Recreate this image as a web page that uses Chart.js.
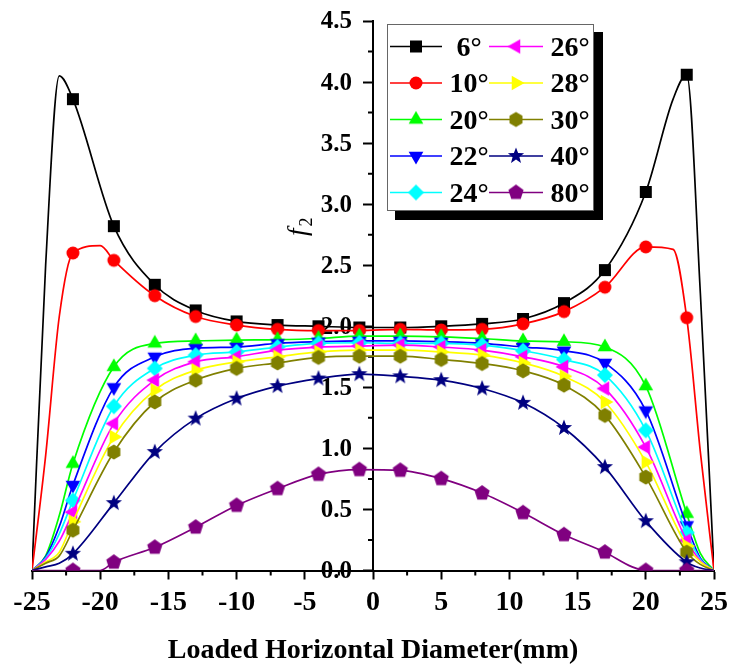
<!DOCTYPE html>
<html>
<head>
<meta charset="utf-8">
<script src="https://cdn.jsdelivr.net/npm/chart.js@4.4.1/dist/chart.umd.min.js"></script>
<style>
  body { margin: 0; background: #fff; }
  canvas { display: block; }
</style>
</head>
<body>
<canvas id="chart" width="729" height="667"></canvas>
<script>
// Posiciones (mm) donde se dibujan los marcadores
const markerX = [-22, -19, -16, -13, -10, -7, -4, -1, 2, 5, 8, 11, 14, 17, 20, 23];

// Ángulos de carga (leyenda)
const labels = ['6°', '10°', '20°', '22°', '24°', '26°', '28°', '30°', '40°', '80°'];

// Posiciones x de cada curva
const xBlack  = [-25, -24, -23, -22, -19, -16, -13, -10, -7, -4, -1, 2, 5, 8, 11, 14, 17, 20, 22, 23, 24, 25];
const xRed    = [-25, -24, -23, -22, -20, -19, -16, -13, -10, -7, -4, -1, 2, 5, 8, 11, 14, 17, 20, 22, 23, 24, 25];
const xMid    = [-25, -24, -23, -22, -19, -16, -13, -10, -7, -4, -1, 2, 5, 8, 11, 14, 17, 20, 23, 24, 25];
const xPurple = [-25, -22, -20, -19, -16, -13, -10, -7, -4, -1, 2, 5, 8, 11, 14, 17, 19, 20, 23, 25];

// Valores f2
const f6  = [0, 2.50, 4.05, 3.86, 2.82, 2.34, 2.13, 2.04, 2.01, 2.00, 1.99, 1.99, 2.00, 2.02, 2.06, 2.19, 2.46, 3.10, 3.86, 4.06, 2.27, 0];
const f10 = [0, 0.94, 2.08, 2.60, 2.66, 2.54, 2.25, 2.08, 2.01, 1.975, 1.965, 1.965, 1.975, 1.97, 1.975, 2.02, 2.12, 2.32, 2.65, 2.63, 2.07, 0.97, 0];
const f20 = [0, 0.12, 0.45, 0.875, 1.668, 1.86, 1.88, 1.887, 1.89, 1.90, 1.92, 1.92, 1.914, 1.90, 1.88, 1.873, 1.83, 1.51, 0.465, 0.14, 0];
const f22 = [0, 0.11, 0.36, 0.70, 1.50, 1.75, 1.82, 1.83, 1.86, 1.873, 1.88, 1.88, 1.873, 1.86, 1.83, 1.80, 1.70, 1.31, 0.37, 0.10, 0];
const f24 = [0, 0.10, 0.30, 0.574, 1.345, 1.655, 1.764, 1.79, 1.83, 1.86, 1.865, 1.86, 1.86, 1.846, 1.80, 1.728, 1.60, 1.148, 0.31, 0.09, 0];
const f26 = [0, 0.09, 0.24, 0.478, 1.203, 1.559, 1.709, 1.75, 1.805, 1.83, 1.838, 1.846, 1.83, 1.805, 1.75, 1.668, 1.49, 1.01, 0.246, 0.08, 0];
const f28 = [0, 0.07, 0.15, 0.40, 1.094, 1.477, 1.64, 1.709, 1.75, 1.79, 1.805, 1.805, 1.79, 1.764, 1.70, 1.59, 1.38, 0.888, 0.20, 0.07, 0];
const f30 = [0, 0.06, 0.12, 0.33, 0.97, 1.38, 1.559, 1.655, 1.70, 1.745, 1.755, 1.755, 1.728, 1.695, 1.635, 1.518, 1.27, 0.765, 0.15, 0.05, 0];
const f40 = [0, 0.03, 0.06, 0.137, 0.552, 0.97, 1.244, 1.408, 1.51, 1.572, 1.608, 1.59, 1.559, 1.49, 1.373, 1.167, 0.847, 0.404, 0.068, 0.02, 0];
const f80 = [0, 0, 0, 0.068, 0.19, 0.355, 0.533, 0.67, 0.787, 0.826, 0.82, 0.752, 0.634, 0.473, 0.293, 0.15, 0.03, 0, 0, 0];

const colors = ['#000000', '#ff0000', '#00ff00', '#0000ff', '#00ffff', '#ff00ff', '#ffff00', '#808000', '#000080', '#800080'];
const shapes = ['square', 'circle', 'up', 'down', 'diamond', 'left', 'right', 'hexagon', 'star', 'pentagon'];

const FONT = "'Liberation Serif', 'Times New Roman', serif";

// Dibuja un polígono regular (o estrella) en el contexto
function poly(g, n, r, rot, inner) {
    const pts = inner ? n * 2 : n;
    for (let i = 0; i < pts; i++) {
        const rr = inner && i % 2 ? inner : r;
        const a = rot + i * 2 * Math.PI / pts;
        const px = rr * Math.cos(a), py = rr * Math.sin(a);
        if (i === 0) g.moveTo(px, py); else g.lineTo(px, py);
    }
    g.closePath();
}

// Crea un canvas pequeño con el marcador para usarlo como pointStyle
function makeMarker(shape, color) {
    const c = document.createElement('canvas');
    c.width = 18; c.height = 18;
    const g = c.getContext('2d');
    g.fillStyle = color;
    g.translate(9, 9);
    g.beginPath();
    const up = -Math.PI / 2;
    switch (shape) {
        case 'square': g.rect(-6, -6, 12, 12); break;
        case 'circle': g.arc(0, 0, 6.5, 0, 2 * Math.PI); break;
        case 'up': poly(g, 3, 8.5, up); break;
        case 'down': poly(g, 3, 8.5, Math.PI / 2); break;
        case 'left': poly(g, 3, 8.5, Math.PI); break;
        case 'right': poly(g, 3, 8.5, 0); break;
        case 'diamond': poly(g, 4, 8, up); break;
        case 'hexagon': poly(g, 6, 7.5, up); break;
        case 'star': poly(g, 5, 8.5, up, 3.6); break;
        case 'pentagon': poly(g, 5, 8, up); break;
    }
    g.fill();
    return c;
}

const markers = shapes.map((s, i) => makeMarker(s, colors[i]));

const series = [
    [xBlack, f6], [xRed, f10], [xMid, f20], [xMid, f22], [xMid, f24],
    [xMid, f26], [xMid, f28], [xMid, f30], [xMid, f40], [xPurple, f80]
];

const datasets = series.map(([xs, ys], i) => ({
    label: labels[i],
    data: xs.map((x, k) => ({ x: x, y: ys[k] })),
    borderColor: colors[i],
    backgroundColor: colors[i],
    borderWidth: 1.7,
    cubicInterpolationMode: 'monotone',
    pointStyle: markers[i],
    pointRadius: ctx => (ctx.raw && markerX.includes(ctx.raw.x)) ? 6 : 0,
    pointHoverRadius: 0,
    clip: 0,
    order: 10 - i
}));

// Etiquetas del eje y (a la izquierda del eje central) y marcas menores
const axisExtras = {
    id: 'axisExtras',
    beforeDatasetsDraw(chart) {
        const { ctx, chartArea, scales } = chart;
        const x0 = scales.x.getPixelForValue(0);
        ctx.save();
        ctx.fillStyle = '#000';
        ctx.font = 'bold 25px ' + FONT;
        ctx.textAlign = 'right';
        ctx.textBaseline = 'middle';
        scales.y.ticks.forEach(t => {
            ctx.fillText(t.value.toFixed(1), x0 - 21, scales.y.getPixelForValue(t.value) + 1);
        });
        ctx.strokeStyle = '#000';
        ctx.lineWidth = 2;
        ctx.beginPath();
        for (let v = -22.5; v < 25; v += 5) {
            const px = scales.x.getPixelForValue(v);
            ctx.moveTo(px, chartArea.bottom);
            ctx.lineTo(px, chartArea.bottom + 5);
        }
        for (let v = 0.25; v < 4.5; v += 0.5) {
            const py = scales.y.getPixelForValue(v);
            ctx.moveTo(x0, py);
            ctx.lineTo(x0 - 5, py);
        }
        ctx.stroke();
        ctx.restore();
    }
};

// Leyenda en dos columnas con sombra y título del eje y
const boxLegend = {
    id: 'boxLegend',
    afterDraw(chart) {
        const ctx = chart.ctx;
        ctx.save();
        // sombra
        ctx.fillStyle = '#000';
        ctx.fillRect(395, 32, 208, 188);
        ctx.fillStyle = '#fff';
        ctx.fillRect(387, 24, 207, 187);
        ctx.strokeStyle = '#666';
        ctx.lineWidth = 1;
        ctx.strokeRect(387.5, 24.5, 206, 186);

        ctx.font = 'bold 28px ' + FONT;
        ctx.textAlign = 'center';
        ctx.textBaseline = 'middle';
        chart.data.datasets.forEach((ds, i) => {
            const col = i < 5 ? 0 : 1;
            const row = i % 5;
            const y = 46.5 + row * 36.5;
            const x1 = col ? 489 : 390;
            const x2 = col ? 543 : 442;
            const xm = col ? 516 : 416;
            const xt = col ? 570 : 469;
            ctx.strokeStyle = ds.borderColor;
            ctx.lineWidth = 1.7;
            ctx.beginPath();
            ctx.moveTo(x1, y);
            ctx.lineTo(x2, y);
            ctx.stroke();
            const m = markers[i];
            ctx.drawImage(m, xm - m.width / 2, y - m.height / 2);
            ctx.fillStyle = '#000';
            ctx.fillText(ds.label, xt, y + 2);
        });

        // título del eje y: f2
        ctx.translate(306, 236);
        ctx.rotate(-Math.PI / 2);
        ctx.textAlign = 'left';
        ctx.textBaseline = 'alphabetic';
        ctx.font = 'italic 27px ' + FONT;
        ctx.fillText('f', 0, 0);
        const w = ctx.measureText('f').width;
        ctx.font = '18px ' + FONT;
        ctx.fillText('2', w + 2, 6);
        ctx.restore();
    }
};

Chart.defaults.color = '#000';

new Chart(document.getElementById('chart'), {
    type: 'line',
    data: { datasets: datasets },
    options: {
        responsive: false,
        animation: false,
        layout: { padding: { left: 32, right: 15, top: 21, bottom: 0 } },
        plugins: {
            legend: { display: false },
            tooltip: { enabled: false }
        },
        scales: {
            x: {
                type: 'linear',
                min: -25,
                max: 25,
                ticks: {
                    stepSize: 5,
                    autoSkip: false,
                    maxRotation: 0,
                    padding: 1,
                    color: '#000',
                    font: { family: FONT, size: 28, weight: 'bold', lineHeight: 44 / 28 }
                },
                grid: { drawOnChartArea: false, tickLength: 9, tickWidth: 2, tickColor: '#000' },
                border: { color: '#000', width: 2 },
                title: {
                    display: true,
                    text: 'Loaded Horizontal Diameter(mm)',
                    color: '#000',
                    font: { family: FONT, size: 28, weight: 'bold', lineHeight: 1 },
                    padding: { top: 11.5, bottom: 2 }
                }
            },
            y: {
                type: 'linear',
                min: 0,
                max: 4.5,
                position: { x: 0 },
                ticks: {
                    stepSize: 0.5,
                    display: false
                },
                grid: { drawOnChartArea: false, tickLength: 9, tickWidth: 2, tickColor: '#000' },
                border: { color: '#000', width: 2 }
            }
        }
    },
    plugins: [axisExtras, boxLegend]
});
</script>
</body>
</html>
